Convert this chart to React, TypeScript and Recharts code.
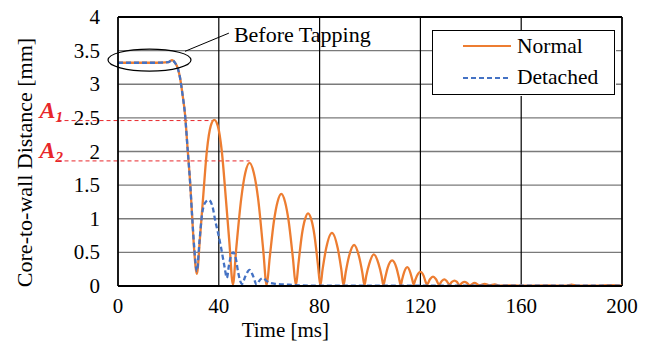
import React from 'react';
import {
  LineChart,
  Line,
  XAxis,
  YAxis,
  CartesianGrid,
  ReferenceLine,
  ReferenceDot,
  Legend,
} from 'recharts';

// ---- data ----
const normalTime = [
  0, 5, 10, 15, 20, 21.5, 22.6, 23.6, 24.6, 25.6, 26.6, 27.6, 28.6, 29.4, 30.2, 31.3,
  32.5, 33.7, 35.3, 36.8, 38.2, 39.6, 41.2, 42.8, 44.2, 45.6,
  46.9, 48.9, 50.5, 52.2, 53.9, 55.6, 57.6, 59.0,
  60.2, 61.9, 63.3, 64.8, 66.3, 67.7, 69.4, 70.6,
  71.6, 73.0, 74.2, 75.4, 76.7, 77.9, 79.3, 80.3,
  81.2, 82.6, 84.9, 87.2, 88.6, 89.5,
  90.3, 91.6, 93.7, 95.7, 97.0, 97.8,
  98.5, 99.7, 101.5, 103.4, 104.6, 105.3,
  106.0, 107.0, 108.8, 110.5, 111.5, 112.2,
  112.7, 113.5, 114.8, 116.0, 116.8, 117.3,
  117.8, 118.6, 120.0, 121.3, 122.0, 122.6,
  123.8, 125.0, 126.2, 127.4,
  128.4, 129.5, 130.5, 131.5,
  132.5, 133.5, 134.5, 135.5,
  136.5, 137.5, 138.5, 139.5,
  141.5, 143.5, 145.5, 147.5, 149.5, 151.5,
  155, 160, 170, 178, 180, 182, 190, 195, 200,
];
const normalValue = [
  3.32, 3.32, 3.32, 3.32, 3.33, 3.36, 3.32, 3.25, 3.1, 2.85, 2.55, 2.05, 1.55, 1.05, 0.55, 0.18,
  0.7, 1.28, 2.02, 2.38, 2.47, 2.38, 2.0, 1.3, 0.65, 0.02,
  0.55, 1.3, 1.68, 1.83, 1.68, 1.3, 0.55, 0.01,
  0.42, 0.97, 1.25, 1.37, 1.25, 0.97, 0.42, 0.01,
  0.33, 0.77, 0.99, 1.08, 0.99, 0.77, 0.33, 0.01,
  0.25, 0.56, 0.79, 0.56, 0.25, 0.01,
  0.19, 0.43, 0.61, 0.43, 0.19, 0.01,
  0.15, 0.33, 0.47, 0.33, 0.15, 0.01,
  0.12, 0.27, 0.38, 0.27, 0.12, 0.01,
  0.09, 0.2, 0.28, 0.2, 0.09, 0.02,
  0.07, 0.15, 0.21, 0.15, 0.07, 0.02,
  0.1, 0.14, 0.1, 0.02,
  0.07, 0.1, 0.07, 0.02,
  0.06, 0.08, 0.06, 0.01,
  0.045, 0.06, 0.045, 0.01,
  0.045, 0.01, 0.03, 0.01, 0.025, 0.005,
  0.01, 0.005, 0.008, 0.005, 0.02, 0.005, 0.005, 0.012, 0.005,
];

const detachedTime = [
  0, 5, 10, 15, 20, 21.5, 22.6, 23.6, 24.6, 25.6, 26.6, 27.6, 28.6, 29.4, 30.2, 31.3,
  32.3, 33.3, 34.6, 36.0, 37.5, 38.7, 39.7, 41.0, 42.3, 43.2,
  44.0, 45.0, 45.8, 46.8, 47.7, 49.2,
  50.5, 52.2, 53.6, 55.0, 56.3, 57.6, 58.8, 60, 63, 67, 72, 80, 100, 150, 200,
];
const detachedValue = [
  3.32, 3.32, 3.32, 3.32, 3.33, 3.36, 3.32, 3.25, 3.1, 2.85, 2.55, 2.05, 1.55, 1.05, 0.6, 0.22,
  0.65, 1.05, 1.24, 1.28, 1.18, 0.95, 0.79, 0.55, 0.28, 0.12,
  0.3, 0.47, 0.5, 0.4, 0.2, 0.03,
  0.14, 0.24, 0.15, 0.02, 0.09, 0.12, 0.08, 0.05, 0.03, 0.02, 0.01, 0.005, 0.005, 0.005, 0.005,
];

const xTicks = [0, 40, 80, 120, 160, 200];
const yTicks = [0, 0.5, 1, 1.5, 2, 2.5, 3, 3.5, 4];
const seriesNames = ['Normal', 'Detached'];
const peakA1 = { t: 38.2, v: 2.46 };
const peakA2 = { t: 52.2, v: 1.86 };
const annotationText = 'Before Tapping';
const xLabel = 'Time [ms]';
const yLabel = 'Core-to-wall Distance [mm]';

const normalData = normalTime.map((t, i) => ({ t, v: normalValue[i] }));
const detachedData = detachedTime.map((t, i) => ({ t, v: detachedValue[i] }));

const FONT = 'Liberation Serif, Times New Roman, serif';
const ORANGE = '#ED7D31';
const BLUE = '#4472C4';
const RED = '#E8262A';

const renderLegend = () => (
  <svg width={184} height={66} style={{ display: 'block', background: '#fff' }}>
    <rect x={0.5} y={0.5} width={182} height={64} fill="#fff" stroke="#000" strokeWidth={1} />
    <line x1={31} y1={16} x2={79} y2={16} stroke={ORANGE} strokeWidth={2.2} />
    <text x={85} y={23} style={{ fontFamily: FONT, fontSize: 21.5 }} fill="#000">{seriesNames[0]}</text>
    <line x1={31} y1={48} x2={79} y2={48} stroke={BLUE} strokeWidth={2.2} strokeDasharray="5 3" />
    <text x={85} y={54} style={{ fontFamily: FONT, fontSize: 21.5 }} fill="#000">{seriesNames[1]}</text>
  </svg>
);

const renderXTick = (p: any) => (
  <text x={p.x} y={p.y + 27} textAnchor="middle" style={{ fontFamily: FONT, fontSize: 21 }} fill="#000">
    {p.payload.value}
  </text>
);

const renderYTick = (p: any) => (
  <text x={p.x} y={p.y + 7} textAnchor="end" style={{ fontFamily: FONT, fontSize: 21 }} fill="#000">
    {p.payload.value}
  </text>
);

const renderALabel = (sub: string) => (p: any) => (
  <text x={p.cx} y={p.cy} textAnchor="end" fill={RED} style={{ fontFamily: FONT, fontStyle: 'italic', fontWeight: 'bold' }}>
    <tspan style={{ fontSize: 24 }} dy={-3}>A</tspan>
    <tspan style={{ fontSize: 15 }} dy={4}>{sub}</tspan>
  </text>
);

export default function App() {
  return (
    <div style={{ position: 'absolute', left: 0, top: 0, width: 652, height: 342, background: '#fff', fontFamily: FONT }}>
      <LineChart
        width={652}
        height={342}
        margin={{ top: 17, right: 30, left: 0, bottom: 0 }}
      >
        <CartesianGrid horizontal={true} vertical={false} stroke="#7a7a7a" strokeWidth={1.3} />
        <XAxis
          type="number"
          dataKey="t"
          domain={[0, 200]}
          ticks={xTicks}
          height={56}
          allowDataOverflow
          axisLine={{ stroke: '#000', strokeWidth: 1.8 }}
          tickLine={false}
          tickSize={0}
          tickMargin={0}
          tick={renderXTick}
          label={(props: any) => {
            const vb = props.viewBox;
            return (
              <text x={vb.x + vb.width * 0.332} y={vb.y + 51} textAnchor="middle" style={{ fontFamily: FONT, fontSize: 21 }} fill="#000">
                {xLabel}
              </text>
            );
          }}
        />
        <YAxis
          type="number"
          domain={[0, 4]}
          ticks={yTicks}
          width={118}
          allowDataOverflow
          axisLine={{ stroke: '#000', strokeWidth: 1.8 }}
          tickLine={false}
          tickSize={0}
          tickMargin={18}
          tick={renderYTick}
          label={(props: any) => {
            const vb = props.viewBox;
            const cx = vb.x + 32;
            const cy = vb.y + vb.height / 2 + 11;
            return (
              <text x={cx} y={cy} transform={`rotate(-90, ${cx}, ${cy})`} textAnchor="middle" style={{ fontFamily: FONT, fontSize: 22 }} fill="#000">
                {yLabel}
              </text>
            );
          }}
        />
        {xTicks.slice(1, -1).map((x) => (
          <ReferenceLine key={'vx' + x} x={x} stroke="#000" strokeWidth={1.2} />
        ))}
        <ReferenceLine y={4} stroke="#000" strokeWidth={1.8} />
        <ReferenceLine x={200} stroke="#000" strokeWidth={1.8} />

        <ReferenceLine
          segment={[{ x: -24, y: peakA1.v }, { x: peakA1.t, y: peakA1.v }]}
          ifOverflow="visible"
          stroke={RED}
          strokeWidth={1}
          strokeDasharray="4 3"
        />
        <ReferenceLine
          segment={[{ x: -24, y: peakA2.v }, { x: peakA2.t, y: peakA2.v }]}
          ifOverflow="visible"
          stroke={RED}
          strokeWidth={1}
          strokeDasharray="4 3"
        />
        <ReferenceDot x={-21.8} y={peakA1.v} r={0} ifOverflow="visible" shape={renderALabel('1')} />
        <ReferenceDot x={-21.8} y={peakA2.v} r={0} ifOverflow="visible" shape={renderALabel('2')} />

        <Line
          data={normalData}
          dataKey="v"
          name={seriesNames[0]}
          type="monotone"
          stroke={ORANGE}
          strokeWidth={2.3}
          dot={false}
          activeDot={false}
          isAnimationActive={false}
        />
        <Line
          data={detachedData}
          dataKey="v"
          name={seriesNames[1]}
          type="monotone"
          stroke={BLUE}
          strokeWidth={2.3}
          strokeDasharray="5 3"
          dot={false}
          activeDot={false}
          isAnimationActive={false}
        />

        <ReferenceDot
          x={12.5}
          y={3.36}
          r={0}
          ifOverflow="visible"
          shape={(p: any) => (
            <ellipse cx={p.cx} cy={p.cy} rx={41.5} ry={11} fill="none" stroke="#000" strokeWidth={1.2} />
          )}
        />
        <ReferenceLine
          segment={[{ x: 26.6, y: 3.49 }, { x: 44, y: 3.76 }]}
          ifOverflow="visible"
          stroke="#000"
          strokeWidth={1}
        />
        <ReferenceDot
          x={46}
          y={3.63}
          r={0}
          ifOverflow="visible"
          shape={(p: any) => (
            <text x={p.cx} y={p.cy} style={{ fontFamily: FONT, fontSize: 22 }} fill="#000">{annotationText}</text>
          )}
        />

        <Legend
          layout="horizontal"
          verticalAlign="middle"
          align="center"
          content={renderLegend}
          wrapperStyle={{ position: 'absolute', left: 432, top: 30, width: 184, height: 66 }}
        />
      </LineChart>
    </div>
  );
}
